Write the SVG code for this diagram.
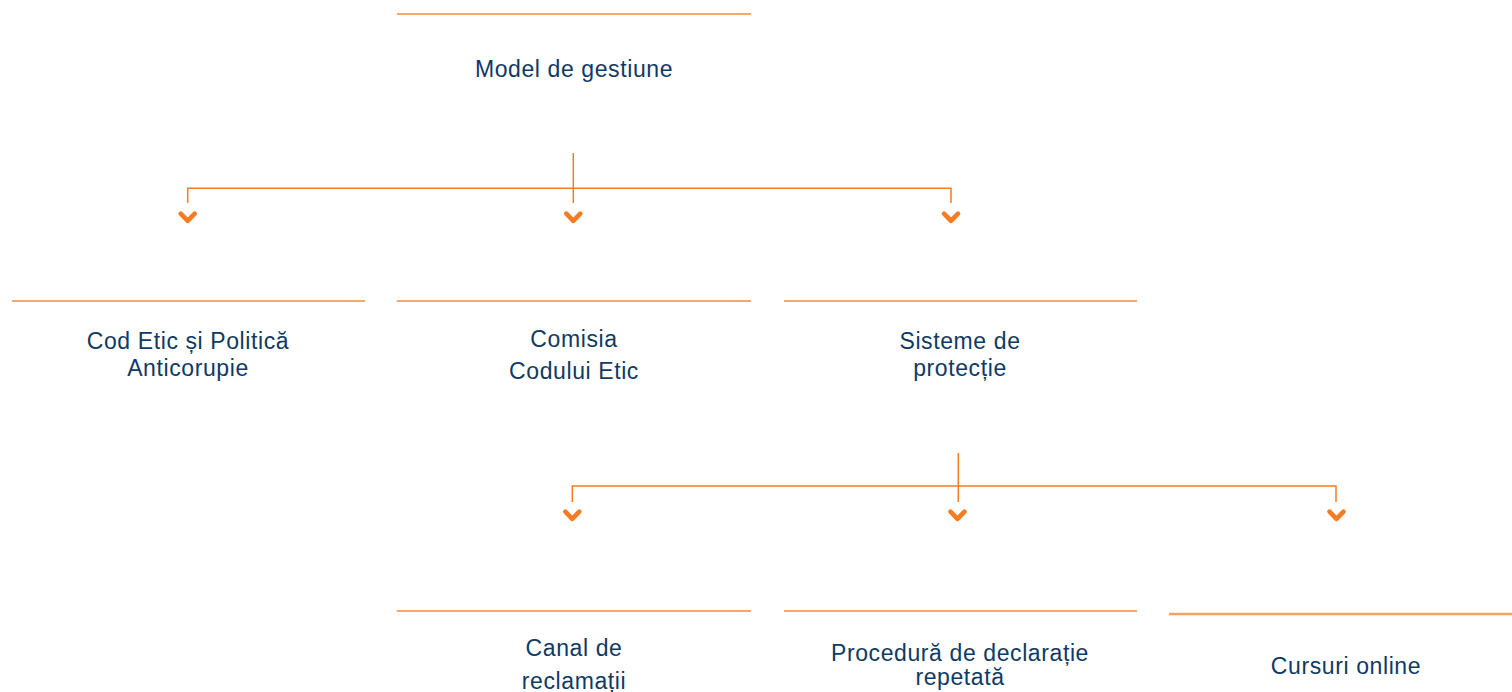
<svg xmlns="http://www.w3.org/2000/svg" width="1512" height="692" viewBox="0 0 1512 692">
  <style>
    .bar { stroke: #f68a3a; stroke-width: 1.6; fill: none; }
    .bar2 { stroke: #f6a062; stroke-width: 2.4; fill: none; }
    .lbl { font-family: "Liberation Sans", Arial, sans-serif; font-size: 23px; fill: #0f3a63; text-anchor: middle; letter-spacing: 0.6px; }
    .con { stroke: #f47c22; stroke-width: 1.5; fill: none; }
    .chev { stroke: #f47c22; stroke-width: 4.6; fill: none; stroke-linecap: round; stroke-linejoin: round; }
  </style>
  <defs>
    <path id="chevron" class="chev" d="M -7 -3.8 L 0 3.4 L 7 -3.8"/>
  </defs>
  <rect width="1512" height="692" fill="#ffffff"/>

  <g id="connectors">
    <path class="con" d="M 573.3 153 V 203 M 187.7 203 V 188.3 H 951 V 203"/>
    <use href="#chevron" x="187.7" y="217.5"/>
    <use href="#chevron" x="573.3" y="217.5"/>
    <use href="#chevron" x="951" y="217.5"/>
    <path class="con" d="M 958.3 453 V 502 M 572.3 502 V 486 H 1336 V 502"/>
    <use href="#chevron" x="572.3" y="515.5"/>
    <use href="#chevron" x="957.5" y="515.5"/>
    <use href="#chevron" x="1336.5" y="515.5"/>
  </g>

  <g id="node-model">
    <line class="bar" x1="397" y1="14" x2="751" y2="14"/>
    <text class="lbl" x="574" y="77">Model de gestiune</text>
  </g>

  <g id="node-cod-etic">
    <line class="bar" x1="12" y1="301" x2="365" y2="301"/>
    <text class="lbl" x="188" y="349">Cod Etic și Politică</text>
    <text class="lbl" x="188" y="376">Anticorupie</text>
  </g>

  <g id="node-comisia">
    <line class="bar" x1="397" y1="301" x2="751" y2="301"/>
    <text class="lbl" x="574" y="347">Comisia</text>
    <text class="lbl" x="574" y="379">Codului Etic</text>
  </g>

  <g id="node-sisteme">
    <line class="bar" x1="784" y1="301" x2="1137" y2="301"/>
    <text class="lbl" x="960" y="349">Sisteme de</text>
    <text class="lbl" x="960" y="376">protecție</text>
  </g>

  <g id="node-canal">
    <line class="bar" x1="397" y1="611" x2="751" y2="611"/>
    <text class="lbl" x="574" y="656">Canal de</text>
    <text class="lbl" x="574" y="689">reclamații</text>
  </g>

  <g id="node-procedura">
    <line class="bar" x1="784" y1="611" x2="1137" y2="611"/>
    <text class="lbl" x="960" y="661">Procedură de declarație</text>
    <text class="lbl" x="960" y="685">repetată</text>
  </g>

  <g id="node-cursuri">
    <line class="bar2" x1="1169" y1="614" x2="1512" y2="614"/>
    <text class="lbl" x="1346" y="674">Cursuri online</text>
  </g>
</svg>
